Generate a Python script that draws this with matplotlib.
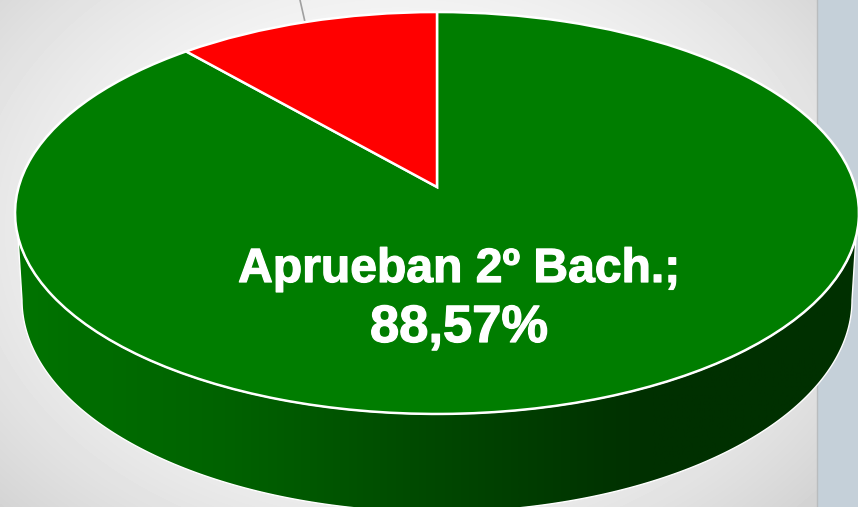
import matplotlib
matplotlib.use("Agg")
import matplotlib.patheffects as pe
import matplotlib.pyplot as plt
import numpy as np
from matplotlib.colors import LinearSegmentedColormap
from matplotlib.patches import PathPatch
from matplotlib.path import Path
from matplotlib.transforms import Transform

plt.rcParams["font.family"] = ["Liberation Sans", "DejaVu Sans"]

# pie data
labels = ["Aprueban 2º Bach.", "No aprueban"]
values = [88.57, 11.43]
colors = ["#007d00", "#ff0000"]
value_text = "88,57%"

# shading of the pie side, left to right
side_stops = [0.0, 0.1, 0.25, 0.35, 0.47, 0.58, 0.70, 0.76, 1.0]
side_colors = ["#007400", "#006c00", "#006200", "#005800", "#004b00",
               "#004000", "#003400", "#003000", "#003000"]


class Perspective(Transform):
    # unit circle -> tilted pie top, in pixels
    input_dims = 2
    output_dims = 2

    def transform_non_affine(self, xy):
        xy = np.asarray(xy)
        w = 1 + 0.1293 * xy[:, 1]
        return np.column_stack((437 + 418.4 * xy[:, 0] / w,
                                187 - 197.6 * xy[:, 1] / w))


W, H = 858, 507
fig = plt.figure(figsize=(W / 100, H / 100), dpi=100)
ax = fig.add_axes([0, 0, 1, 1])

# background, radial grey
yy, xx = np.mgrid[0:H, 0:W]
r = np.hypot((xx - 400) / 560.0, (yy - 230) / 420.0)
bg = np.clip(1.0 - 0.18 * r ** 2, 0.8, 1)
ax.imshow(bg, cmap="gray", vmin=0, vmax=1, extent=(0, W, H, 0), zorder=0)
ax.axvspan(817, W, color="#c5d0d9", lw=0, zorder=1)
ax.plot([816.5, 816.5], [0, H], color="#b9bcbe", lw=1, zorder=1)

# leader line of the hidden label
ax.plot([300, 305], [0, 22], color="#a0a0a0", lw=1.2, zorder=1)

# side wall
t = np.linspace(0, np.pi, 200)
bottom = np.column_stack((437 - 415 * np.cos(t), 300 + 212 * np.sin(t)))
t2 = np.linspace(np.pi - 0.12, 0.12, 200)
top = np.column_stack((437 - 422 * np.cos(t2), 213 + 201 * np.sin(t2)))
wall = PathPatch(Path(np.vstack((bottom, top, bottom[:1])), closed=True),
                 fc="none", ec="white", lw=1.0, zorder=3)
ax.add_patch(wall)
cmap = LinearSegmentedColormap.from_list("side", list(zip(side_stops, side_colors)))
grad = ax.imshow(np.linspace(0, 1, 512)[None, :], cmap=cmap, aspect="auto",
                 extent=(15, 856, H + 20, 200), zorder=2)
grad.set_clip_path(wall)

# pie top
wedges, _ = ax.pie(values, colors=colors, startangle=90, counterclock=False,
                   wedgeprops={"edgecolor": "white", "linewidth": 1.8, "zorder": 4})
persp = Perspective()
for w in wedges:
    w.set_transform(persp + ax.transData)
    w.set_clip_on(False)

stroke = [pe.withStroke(linewidth=0.9, foreground="white")]
ax.text(459, 282, f"{labels[0]};", color="white", fontsize=34.6, fontweight="bold",
        ha="center", va="baseline", zorder=5, path_effects=stroke)
ax.text(459, 342, value_text, color="white", fontsize=37.8, fontweight="bold",
        ha="center", va="baseline", zorder=5, path_effects=stroke)

ax.set_aspect("auto")
ax.set_xlim(0, W)
ax.set_ylim(H, 0)
ax.axis("off")
fig.savefig("out.png", dpi=100)
